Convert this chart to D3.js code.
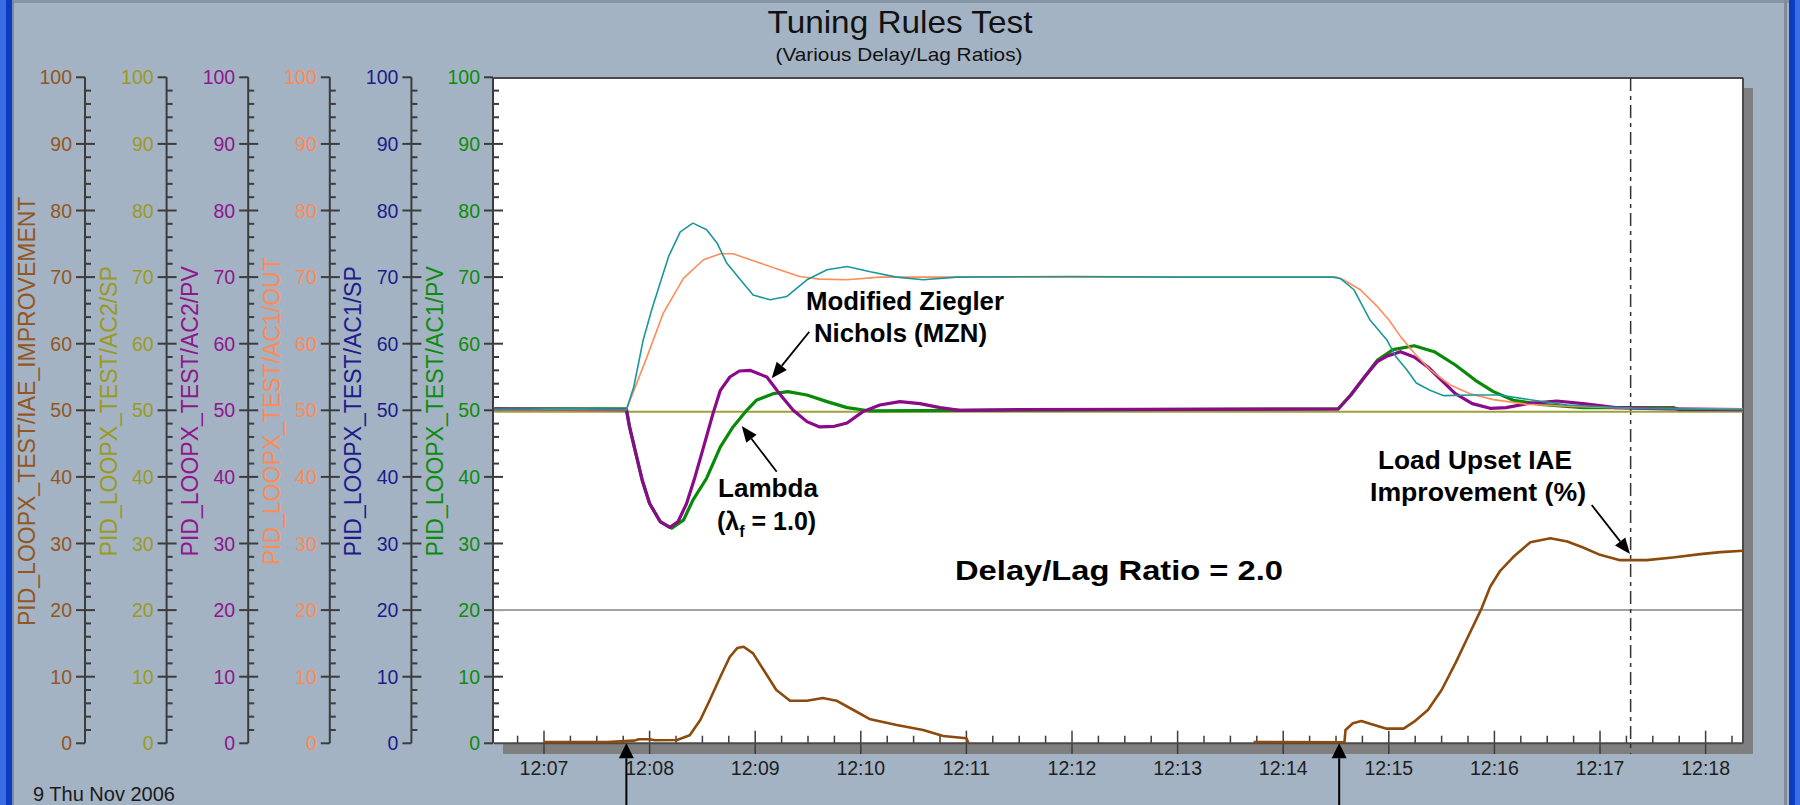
<!DOCTYPE html>
<html><head><meta charset="utf-8">
<script src="https://cdn.jsdelivr.net/npm/d3@7"></script>
<style>html,body{margin:0;padding:0;background:#a3b3c3;overflow:hidden}</style>
</head><body><svg id="c" width="1800" height="805"></svg>
<script>
// ---------------- DATA ----------------
const axisNames = ["PID_LOOPX_TEST/IAE_IMPROVEMENT","PID_LOOPX_TEST/AC2/SP","PID_LOOPX_TEST/AC2/PV","PID_LOOPX_TEST/AC1/OUT","PID_LOOPX_TEST/AC1/SP","PID_LOOPX_TEST/AC1/PV"];
const axisColors = ["#93561e","#9a9a1e","#8e168e","#ff8a55","#1c1c8c","#0c8c0c"];
const timeTickMinutes = [7,8,9,10,11,12,13,14,15,16,17,18];
const timeTickLabels = ["12:07","12:08","12:09","12:10","12:11","12:12","12:13","12:14","12:15","12:16","12:17","12:18"];
const timeDomain = [6.5265, 18.354];   // minutes after 12:00
const eventTimes = [7.78, 14.53];
const markerTime = 17.29;
const refLevel = 20;

// [minute after 12:00, value %]
const tealTrace = [[6.53,50.1],[7.2,50.25],[7.78,50.1],[7.85,53.5],[7.94,60.6],[8.02,65.1],[8.10,69.1],[8.18,73.1],[8.29,76.8],[8.41,78.1],[8.54,77.1],[8.64,75.1],[8.73,72.1],[8.86,69.6],[8.98,67.3],[9.14,66.6],[9.30,67.1],[9.49,69.6],[9.68,71.1],[9.87,71.6],[10.09,70.8],[10.34,70.0],[10.59,69.6],[10.91,70.0],[12.0,70.1],[13.0,70.0],[14.47,70.0],[14.54,69.8],[14.67,68.1],[14.82,63.6],[14.98,60.6],[15.07,58.0],[15.17,56.1],[15.26,54.1],[15.39,53.0],[15.52,52.2],[15.8,52.3],[16.05,52.3],[16.37,51.5],[16.69,50.8],[17.31,50.3],[18.354,50.1]];
const ac1Out = [[6.53,50.1],[7.78,50.1],[7.97,57.8],[8.13,64.6],[8.32,69.8],[8.51,72.6],[8.67,73.5],[8.79,73.5],[9.01,72.3],[9.23,71.1],[9.42,70.1],[9.61,69.7],[9.87,69.6],[10.18,70.0],[14.5,70.0],[14.57,69.6],[14.73,68.1],[14.89,65.6],[15.0,63.6],[15.11,61.1],[15.24,58.6],[15.39,56.1],[15.58,53.8],[15.77,52.5],[15.99,51.6],[16.31,50.9],[16.69,50.6],[17.3,50.3],[18.354,50.2]];
const ac2Pv = [[6.53,50.2],[7.78,50.1],[7.81,47.5],[7.87,43.5],[7.93,39.5],[8.00,36.0],[8.10,33.3],[8.19,32.4],[8.27,33.3],[8.35,36.0],[8.43,40.0],[8.52,45.0],[8.60,49.5],[8.67,53.0],[8.76,55.0],[8.85,55.9],[8.95,56.0],[9.11,55.0],[9.23,52.5],[9.36,50.0],[9.49,48.3],[9.61,47.5],[9.75,47.6],[9.87,48.1],[10.02,49.8],[10.18,50.8],[10.37,51.3],[10.56,51.0],[10.75,50.4],[10.94,50.0],[11.5,50.1],[14.52,50.2],[14.64,52.3],[14.77,55.0],[14.89,57.3],[14.98,58.1],[15.11,58.8],[15.24,58.0],[15.37,56.5],[15.50,54.5],[15.63,52.5],[15.79,51.0],[15.96,50.3],[16.11,50.4],[16.31,51.0],[16.59,51.4],[16.84,51.0],[17.15,50.4],[17.63,50.2],[18.354,50.1]];
const ac1Pv = [[6.53,50.2],[7.78,50.2],[7.81,47.5],[7.87,43.5],[7.93,39.5],[8.00,36.0],[8.10,33.3],[8.21,32.3],[8.32,33.5],[8.41,36.5],[8.54,39.8],[8.67,44.5],[8.79,47.5],[8.92,50.0],[9.01,51.5],[9.17,52.5],[9.31,52.8],[9.49,52.3],[9.68,51.3],[9.87,50.4],[10.09,49.9],[11.0,50.0],[14.52,50.2],[14.64,52.3],[14.77,55.0],[14.89,57.5],[15.04,59.1],[15.24,59.7],[15.43,58.8],[15.63,56.8],[15.82,54.5],[15.99,52.8],[16.18,51.5],[16.44,50.9],[16.84,50.4],[17.7,50.4],[17.75,50.1],[18.354,50.1]];
const ac2Sp = [[6.53,49.8],[18.354,49.8]];
const iaeFirst = [[7.0,0.2],[7.6,0.2],[7.85,0.4],[7.9,0.6],[8.0,0.6],[8.05,0.45],[8.26,0.5],[8.38,1.2],[8.48,3.5],[8.57,6.5],[8.67,10.0],[8.76,13.0],[8.83,14.3],[8.89,14.5],[8.98,13.5],[9.08,11.0],[9.20,8.0],[9.33,6.4],[9.49,6.4],[9.64,6.8],[9.77,6.4],[9.93,5.0],[10.09,3.6],[10.34,2.75],[10.59,2.0],[10.78,1.1],[11.0,0.75],[11.02,0.0]];
const iaeSecond = [[13.72,0.2],[14.58,0.15],[14.59,2.0],[14.66,3.0],[14.74,3.35],[14.83,2.9],[14.98,2.2],[15.14,2.2],[15.24,3.25],[15.37,5.0],[15.50,8.0],[15.63,12.0],[15.75,16.0],[15.88,20.3],[15.96,23.5],[16.05,25.8],[16.18,28.0],[16.34,30.2],[16.53,30.8],[16.69,30.3],[16.84,29.4],[17.0,28.3],[17.19,27.5],[17.44,27.5],[17.69,27.9],[17.95,28.4],[18.14,28.7],[18.354,28.9]];

// ---------------- DRAW ----------------
const W = 1800, H = 805;
const FONT = "'Liberation Sans', Arial, Helvetica, sans-serif";
const svg = d3.select("#c");
const PL = 494, PR = 1743, PT = 78, PB = 743.3;
const x = d3.scaleLinear().domain(timeDomain).range([PL, PR]);
const y = d3.scaleLinear().domain([0, 100]).range([743.3, 77.3]);

svg.append("rect").attr("width", W).attr("height", H).attr("fill", "#a3b3c3");
// window frame
svg.append("rect").attr("x",0).attr("y",0).attr("width",W).attr("height",3).attr("fill","#8696a6");
svg.append("rect").attr("x",0).attr("y",0).attr("width",6).attr("height",H).attr("fill","#3a6ee6");
svg.append("rect").attr("x",6).attr("y",0).attr("width",6).attr("height",H).attr("fill","#0b3cc4");
svg.append("rect").attr("x",12).attr("y",0).attr("width",2).attr("height",H).attr("fill","#7e8b98");
svg.append("rect").attr("x",1784).attr("y",0).attr("width",3).attr("height",H).attr("fill","#7e8b98");
svg.append("rect").attr("x",1789).attr("y",0).attr("width",6).attr("height",H).attr("fill","#0b3cc4");
svg.append("rect").attr("x",1795).attr("y",0).attr("width",5).attr("height",H).attr("fill","#3a6ee6");

// title
svg.append("text").attr("x",900).attr("y",33).attr("text-anchor","middle")
  .attr("font-family",FONT).attr("font-size",32).attr("fill","#111")
  .attr("textLength",265).attr("lengthAdjust","spacingAndGlyphs").text("Tuning Rules Test");
svg.append("text").attr("x",899).attr("y",61).attr("text-anchor","middle")
  .attr("font-family",FONT).attr("font-size",19).attr("fill","#111")
  .attr("textLength",247).attr("lengthAdjust","spacingAndGlyphs").text("(Various Delay/Lag Ratios)");

// plot shadow + background
svg.append("rect").attr("x",PR).attr("y",88).attr("width",10).attr("height",754-88).attr("fill","#7f7f7f");
svg.append("rect").attr("x",503).attr("y",PB).attr("width",PR+10-503).attr("height",754-PB).attr("fill","#7f7f7f");
svg.append("rect").attr("x",PL).attr("y",PT).attr("width",PR-PL).attr("height",PB-PT).attr("fill","#ffffff");

// y axes
const axX = axisNames.map((d,i) => 85 + i*81.6);
const tickVals = d3.range(0, 101, 2);
axisNames.forEach((name, i) => {
  const ax = axX[i], col = axisColors[i];
  const g = svg.append("g");
  g.append("line").attr("x1",ax).attr("x2",ax).attr("y1",y(100)).attr("y2",y(0))
    .attr("stroke","#3c3c3c").attr("stroke-width",2);
  tickVals.forEach(v => {
    const major = v % 10 === 0;
    const x1 = major ? ax - 9 : ax;
    const x2 = major ? ((v === 0 || v === 100) ? ax : ax + 10) : ax + 6;
    g.append("line").attr("x1",x1).attr("x2",x2).attr("y1",y(v)).attr("y2",y(v))
      .attr("stroke","#3c3c3c").attr("stroke-width",2);
    if (major) {
      g.append("text").attr("x",ax-13).attr("y",y(v)).attr("text-anchor","end")
        .attr("dominant-baseline","central").attr("font-family",FONT).attr("font-size",19.5)
        .attr("fill",col).text(v);
    }
  });
  g.append("text").attr("transform",`translate(${ax-58},${y(50)+1}) rotate(-90)`)
    .attr("text-anchor","middle").attr("dominant-baseline","central")
    .attr("font-family",FONT).attr("font-size",23).attr("fill",col).text(name);
});

// reference line at 20
svg.append("line").attr("x1",PL).attr("x2",PR).attr("y1",y(refLevel)).attr("y2",y(refLevel))
  .attr("stroke","#a2a2a2").attr("stroke-width",2);

// x axis ticks
const xt = d3.range(6.75, timeDomain[1], 0.25);
xt.forEach(t => {
  const major = Math.abs(t - Math.round(t)) < 1e-6;
  svg.append("line").attr("x1",x(t)).attr("x2",x(t))
    .attr("y1", major ? 730.7 : 735.7).attr("y2", major ? 754 : PB)
    .attr("stroke","#3c3c3c").attr("stroke-width",1.5);
});
timeTickMinutes.forEach((m,i) => {
  svg.append("text").attr("x",x(m)).attr("y",768).attr("text-anchor","middle")
    .attr("dominant-baseline","central").attr("font-family",FONT).attr("font-size",19.5)
    .attr("fill","#1e1e1e").text(timeTickLabels[i]);
});

// frame lines
svg.append("line").attr("x1",PL).attr("x2",PR).attr("y1",PT).attr("y2",PT).attr("stroke","#4a4a4a").attr("stroke-width",2);
svg.append("line").attr("x1",PR).attr("x2",PR).attr("y1",PT).attr("y2",PB).attr("stroke","#4a4a4a").attr("stroke-width",2);
svg.append("line").attr("x1",PL).attr("x2",PR).attr("y1",PB).attr("y2",PB).attr("stroke","#4a4a4a").attr("stroke-width",2);

// marker dash-dot line
svg.append("line").attr("x1",x(markerTime)).attr("x2",x(markerTime)).attr("y1",PT).attr("y2",754)
  .attr("stroke","#333").attr("stroke-width",1.5).attr("stroke-dasharray","13,5,4,5");

// series
const line = d3.line().x(d => x(d[0])).y(d => y(d[1]));
const plot = svg.append("g");
const series = [
  {d: ac2Sp, c: "#a0a038", w: 2},
  {d: iaeFirst, c: "#8c4a0c", w: 2.6},
  {d: iaeSecond, c: "#8c4a0c", w: 2.6},
  {d: ac1Pv, c: "#088a08", w: 3.2},
  {d: ac2Pv, c: "#8a0a8a", w: 3.2},
  {d: ac1Out, c: "#ff8c5a", w: 1.6},
  {d: tealTrace, c: "#1a9898", w: 1.6}
];
series.forEach(s => {
  plot.append("path").datum(s.d).attr("d", line).attr("fill","none")
    .attr("stroke", s.c).attr("stroke-width", s.w).attr("stroke-linejoin","round");
});

// arrows
function arrow(x1, y1, x2, y2, len, hw, sw) {
  const dx = x2 - x1, dy = y2 - y1, L = Math.hypot(dx, dy);
  const ux = dx / L, uy = dy / L;
  const bx = x2 - ux * len, by = y2 - uy * len;
  svg.append("line").attr("x1",x1).attr("y1",y1).attr("x2",bx).attr("y2",by)
    .attr("stroke","#000").attr("stroke-width",sw);
  svg.append("path").attr("d",`M${x2},${y2}L${bx - uy*hw},${by + ux*hw}L${bx + uy*hw},${by - ux*hw}Z`).attr("fill","#000");
}
eventTimes.forEach(t => arrow(x(t), 805, x(t), PB, 15, 7.5, 2));
arrow(809.3, 331.7, 771.7, 378.3, 16, 6.5, 1.8);
arrow(776.7, 471.7, 741.7, 426, 16, 6.5, 1.8);
arrow(1591.7, 505, 1630, 554, 16, 6.5, 1.8);

// annotations
function label(txt, x0, yb, size, len) {
  svg.append("text").attr("x",x0).attr("y",yb).attr("font-family",FONT).attr("font-weight","bold")
    .attr("font-size",size).attr("fill","#000").attr("textLength",len)
    .attr("lengthAdjust","spacingAndGlyphs").text(txt);
}
label("Modified Ziegler", 806, 310, 25, 198);
label("Nichols (MZN)", 814, 342, 25, 173);
label("Lambda", 718, 497, 25, 100);
label("Load Upset IAE", 1378, 469, 25, 194);
label("Improvement (%)", 1370, 501, 25, 216);
label("Delay/Lag Ratio = 2.0", 955, 580, 28, 328);
const lt = svg.append("text").attr("x",717).attr("y",530).attr("font-family",FONT)
  .attr("font-weight","bold").attr("font-size",25).attr("fill","#000");
lt.append("tspan").text("(λ");
lt.append("tspan").attr("font-size",16).attr("dy",7).text("f");
lt.append("tspan").attr("dy",-7).text(" = 1.0)");

// date
svg.append("text").attr("x",33).attr("y",801).attr("font-family",FONT).attr("font-size",20)
  .attr("fill","#1a1a1a").text("9 Thu Nov 2006");
</script></body></html>
